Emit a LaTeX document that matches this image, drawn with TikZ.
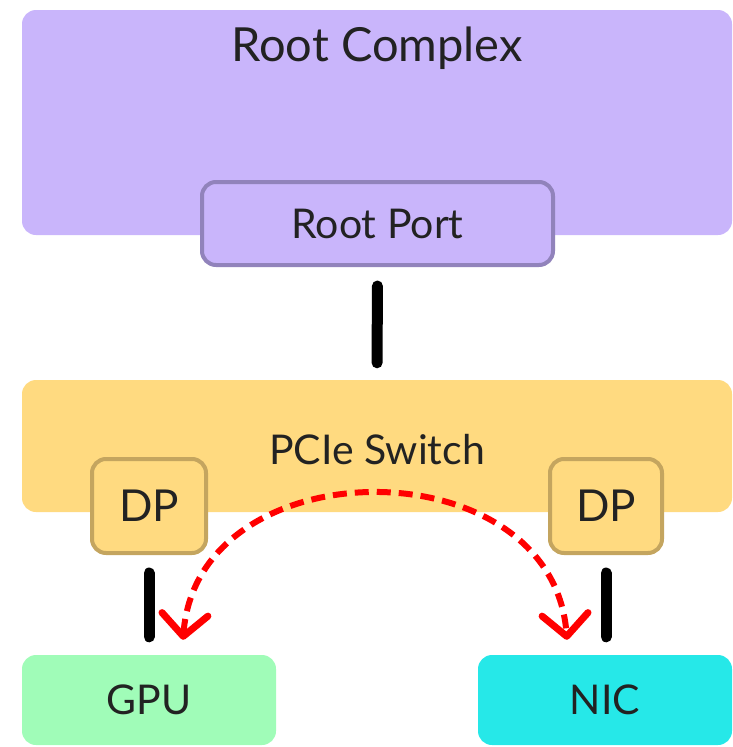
\documentclass[tikz,border=0pt]{standalone}
\usepackage{fontspec}
\setmainfont{Lato}
\usetikzlibrary{arrows.meta,calc}
\definecolor{rcfill}{HTML}{C9B5FB}
\definecolor{rpborder}{HTML}{9183BB}
\definecolor{swfill}{HTML}{FFDA80}
\definecolor{dpborder}{HTML}{C4A55F}
\definecolor{gpufill}{HTML}{A0FCB8}
\definecolor{nicfill}{HTML}{26E8E8}
\definecolor{txt}{HTML}{222222}
\begin{document}
\begin{tikzpicture}[x=1pt,y=-1pt,
  box/.style={rectangle,rounded corners=14pt,inner sep=0pt,text=txt},
  big/.style={font=\fontsize{47}{52}\selectfont},
  mid/.style={font=\fontsize{41}{46}\selectfont},
  dpf/.style={font=\fontsize{44}{50}\selectfont},
  link/.style={line width=11pt,line cap=round,black},
  p2p/.style={red,line width=6pt,dash pattern=on 14pt off 8pt,{Straight Barb[length=22pt,width=46pt,round,line width=7pt]}-{Straight Barb[length=22pt,width=46pt,round,line width=7pt]}}
]
\useasboundingbox (0,0) rectangle (733,747);
\node[box,fill=rcfill,minimum width=710pt,minimum height=225pt] (rc) at (377,122.5) {};
\node[text=txt,big] (rctext) at (377,48) {Root Complex};
\node[box,fill=rcfill,draw=rpborder,line width=4pt,minimum width=351pt,minimum height=83pt,mid] (rp) at (377.5,223.5) {Root Port};
\node[box,fill=swfill,minimum width=710pt,minimum height=132pt] (sw) at (377,446) {};
\node[text=txt,mid] (swtext) at (377,450) {PCIe Switch};
\node[box,fill=swfill,draw=dpborder,line width=4pt,minimum width=114pt,minimum height=94pt,dpf] (dpl) at (149,506) {DP};
\node[box,fill=swfill,draw=dpborder,line width=4pt,minimum width=112pt,minimum height=94pt,dpf] (dpr) at (606,506) {DP};
\node[box,fill=gpufill,minimum width=254pt,minimum height=90pt,mid] (gpu) at (149,700) {GPU};
\node[box,fill=nicfill,minimum width=254pt,minimum height=90pt,mid] (nic) at (605,700) {NIC};
\draw[link,shorten <=19pt,shorten >=17pt] (rp.south) -- (sw.north);
\draw[link,shorten <=18pt,shorten >=18pt] (dpl.south) -- (dpl.south |- gpu.north);
\draw[link,shorten <=18pt,shorten >=18pt] (dpr.south) -- (dpr.south |- nic.north);
\coordinate (a1) at ($(gpu.north)+(34,-15)$);
\coordinate (a2) at ($(nic.north)+(-38,-15)$);
\draw[p2p] (a1) .. controls (198,445) and (552,445) .. (a2);
\end{tikzpicture}
\end{document}
